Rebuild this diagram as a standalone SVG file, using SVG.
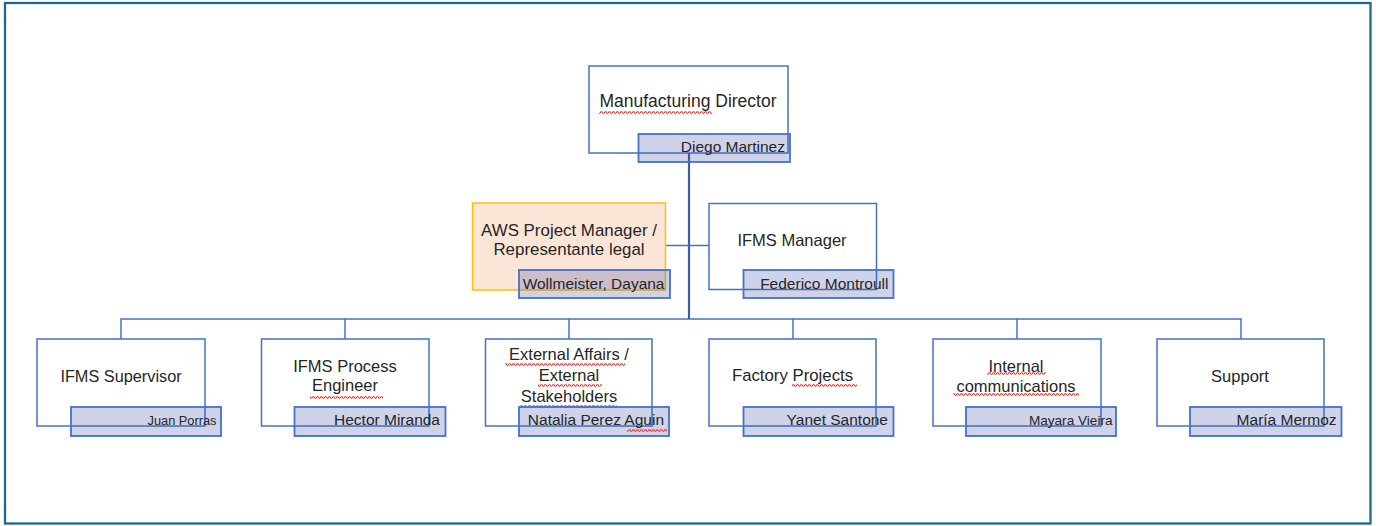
<svg xmlns="http://www.w3.org/2000/svg" width="1376" height="526" viewBox="0 0 1376 526">
  <style>
    .box { fill: #ffffff; stroke: #4472c4; stroke-width: 1.5; }
    .assist { fill: #fbe5d6; stroke: #ffc000; stroke-width: 1.5; }
    .name { fill: #3f51a8; fill-opacity: 0.25; stroke: #4472c4; stroke-width: 1.8; }
    .title { font-family: "Liberation Sans", Arial, sans-serif; fill: #262626; text-anchor: middle; }
    .person { font-family: "Liberation Sans", Arial, sans-serif; fill: #262626; text-anchor: end; font-size: 15.5px; }
    .link { fill: none; stroke: #4472c4; stroke-width: 1.5; }
    .trunk { fill: none; stroke: #3a5ba8; stroke-width: 2.2; }
    .spell { fill: url(#squiggle); }
  </style>
  <defs>
    <!-- wavy spell-check underline, tile height 3 -->
    <pattern id="squiggle" patternUnits="userSpaceOnUse" width="4" height="3">
      <path d="M0 2.3 L1 0.7 L2 0.7 L3 2.3 L4 2.3" fill="none" stroke="#e53935" stroke-width="1.1"/>
    </pattern>
  </defs>

  <rect width="1376" height="526" fill="#ffffff"/>
  <!-- page frame -->
  <rect x="5" y="3" width="1365.5" height="520.5" fill="none" stroke="#1d6a8f" stroke-width="2.3"/>

  <!-- connectors -->
  <g id="connectors">
    <path class="trunk" d="M689 153 V319"/>
    <path class="link" d="M666 245.5 H709"/>
    <path class="link" d="M121 339 V319 H1241 V339"/>
    <path class="link" d="M345 319 V339 M569 319 V339 M1017 319 V339"/>
    <path class="link" d="M793 319 V339" stroke="#8da5d6" stroke-width="2.2"/>
  </g>

  <g id="manufacturing-director">
    <rect class="box" x="589" y="66" width="199" height="87"/>
    <text class="title" x="688" y="107" font-size="17.5">Manufacturing Director</text>
    <rect class="spell" x="599" y="111" width="113" height="3"/>
    <rect class="name" x="638.5" y="134" width="151.5" height="28"/>
    <text class="person" x="785" y="152">Diego Martinez</text>
  </g>

  <g id="aws-project-manager">
    <rect class="assist" x="472.5" y="203" width="193" height="87"/>
    <text class="title" x="569" y="235.5" font-size="16.9">AWS Project Manager /</text>
    <text class="title" x="569" y="254.5" font-size="16.9">Representante legal</text>
    <rect class="name" x="519" y="270" width="151" height="28"/>
    <text class="person" x="664.5" y="289">Wollmeister, Dayana</text>
  </g>

  <g id="ifms-manager">
    <rect class="box" x="709" y="203.5" width="167.5" height="86"/>
    <text class="title" x="792" y="245.5" font-size="16.5">IFMS Manager</text>
    <rect class="name" x="743.5" y="270" width="150" height="28"/>
    <text class="person" x="888.5" y="289">Federico Montroull</text>
  </g>

  <g id="ifms-supervisor">
    <rect class="box" x="37" y="339" width="168" height="87"/>
    <text class="title" x="121" y="381.5" font-size="16.3">IFMS Supervisor</text>
    <rect class="name" x="71" y="407" width="150" height="29"/>
    <text class="person" x="216.5" y="425" style="font-size:12.8px">Juan Porras</text>
  </g>

  <g id="ifms-process-engineer">
    <rect class="box" x="261.5" y="339" width="167.5" height="87"/>
    <text class="title" x="345" y="371.5" font-size="16.5">IFMS Process</text>
    <text class="title" x="345" y="391" font-size="16.5">Engineer</text>
    <rect class="spell" x="310" y="396" width="73" height="3"/>
    <rect class="name" x="294.5" y="407" width="151" height="29"/>
    <text class="person" x="440" y="425">Hector Miranda</text>
  </g>

  <g id="external-affairs">
    <rect class="box" x="485.5" y="339" width="166.5" height="87"/>
    <text class="title" x="569" y="360" font-size="16.5">External Affairs /</text>
    <text class="title" x="569" y="381" font-size="16.5">External</text>
    <text class="title" x="569" y="401.5" font-size="16.5">Stakeholders</text>
    <rect class="spell" x="505" y="363" width="120" height="3"/>
    <rect class="spell" x="538" y="384" width="64" height="3"/>
    <rect class="spell" x="520" y="405" width="97" height="3"/>
    <rect class="name" x="519" y="407" width="150" height="29"/>
    <rect class="spell" x="627" y="429" width="40" height="3"/>
    <text class="person" x="664" y="425">Natalia Perez Aguin</text>
  </g>

  <g id="factory-projects">
    <rect class="box" x="709" y="339" width="167" height="87"/>
    <text class="title" x="792.5" y="381" font-size="16.8">Factory Projects</text>
    <rect class="spell" x="792" y="384" width="65" height="3"/>
    <rect class="name" x="743.5" y="407" width="150" height="29"/>
    <text class="person" x="888" y="425">Yanet Santone</text>
  </g>

  <g id="internal-communications">
    <rect class="box" x="933" y="339" width="168" height="87"/>
    <text class="title" x="1016" y="371.5" font-size="16.5">Internal</text>
    <text class="title" x="1016" y="391.5" font-size="16.5">communications</text>
    <rect class="spell" x="987" y="372" width="59" height="3"/>
    <rect class="spell" x="953" y="393" width="126" height="3"/>
    <rect class="name" x="966" y="407" width="150" height="29"/>
    <text class="person" x="1112.5" y="425" style="font-size:13.6px">Mayara Vieira</text>
  </g>

  <g id="support">
    <rect class="box" x="1157" y="339" width="167" height="87"/>
    <text class="title" x="1240" y="381.5" font-size="16.5">Support</text>
    <rect class="name" x="1190" y="407" width="151.5" height="29"/>
    <text class="person" x="1336.5" y="425">María Mermoz</text>
  </g>
</svg>
